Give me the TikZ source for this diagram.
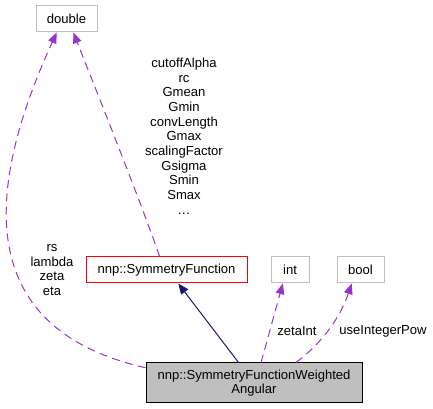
\documentclass[tikz,border=0pt]{standalone}
\usepackage{fontspec}
\setmainfont{Liberation Sans}
\usetikzlibrary{arrows.meta}
\definecolor{usage}{RGB}{154,50,205}
\definecolor{inherit}{RGB}{25,25,112}
\definecolor{boxgray}{RGB}{191,191,191}
\definecolor{boxred}{RGB}{255,0,0}
\tikzset{
  cls/.style={draw=boxgray,line width=0.75pt,minimum height=19.5pt,inner sep=0pt,
    font=\fontsize{9.8}{11}\selectfont},
  member/.style={align=center,font=\fontsize{9.8}{11}\selectfont},
  useedge/.style={draw=usage,line width=0.75pt,dash pattern=on 6pt off 4pt,
    -{Triangle[length=8pt,width=6.5pt,fill=usage]}},
  baseedge/.style={draw=inherit,line width=0.75pt,
    -{Triangle[length=8pt,width=6.5pt,fill=inherit]}}
}
\begin{document}
\begin{tikzpicture}[x=0.75pt,y=-0.75pt]
  \useasboundingbox (0,0) rectangle (433,409);
  % classes
  \node[cls,minimum width=45.75pt] (double) at (66.5,19) {double};
  \node[cls,draw=boxred,minimum width=120.75pt] (symfunc) at (166.5,270) {nnp::SymmetryFunction};
  \node[cls,minimum width=28.5pt] (int) at (290,270) {int};
  \node[cls,minimum width=35.25pt] (bool) at (360.5,270) {bool};
  \node[cls,draw=black,fill=boxgray,minimum width=162pt,minimum height=30pt,
    align=center] (main) at (254,383) {nnp::SymmetryFunctionWeighted\\Angular};
  % edges
  \draw[baseedge] (main.127) -- (symfunc.311);
  \draw[useedge] (main.172) .. controls (-20,330) and (-20,200) .. (double.234);
  \draw[useedge] (symfunc.117) .. controls (140,200) and (100,100) .. (double.297);
  \draw[useedge] (main.71) -- (int.242);
  \draw[useedge] (main.26) .. controls (322,343) and (340,318) .. (bool.237);
  % labels
  \node[member] (lblrs) at (52,270) {rs\\lambda\\zeta\\eta};
  \node[member] (lblsf) at (184,136) {cutoffAlpha\\rc\\Gmean\\Gmin\\convLength\\Gmax\\scalingFactor\\Gsigma\\Smin\\Smax\\\dots};
  \node[member] (lblzeta) at (297,331) {zetaInt};
  \node[member] (lblpow) at (383,331) {useIntegerPow};
\end{tikzpicture}
\end{document}
